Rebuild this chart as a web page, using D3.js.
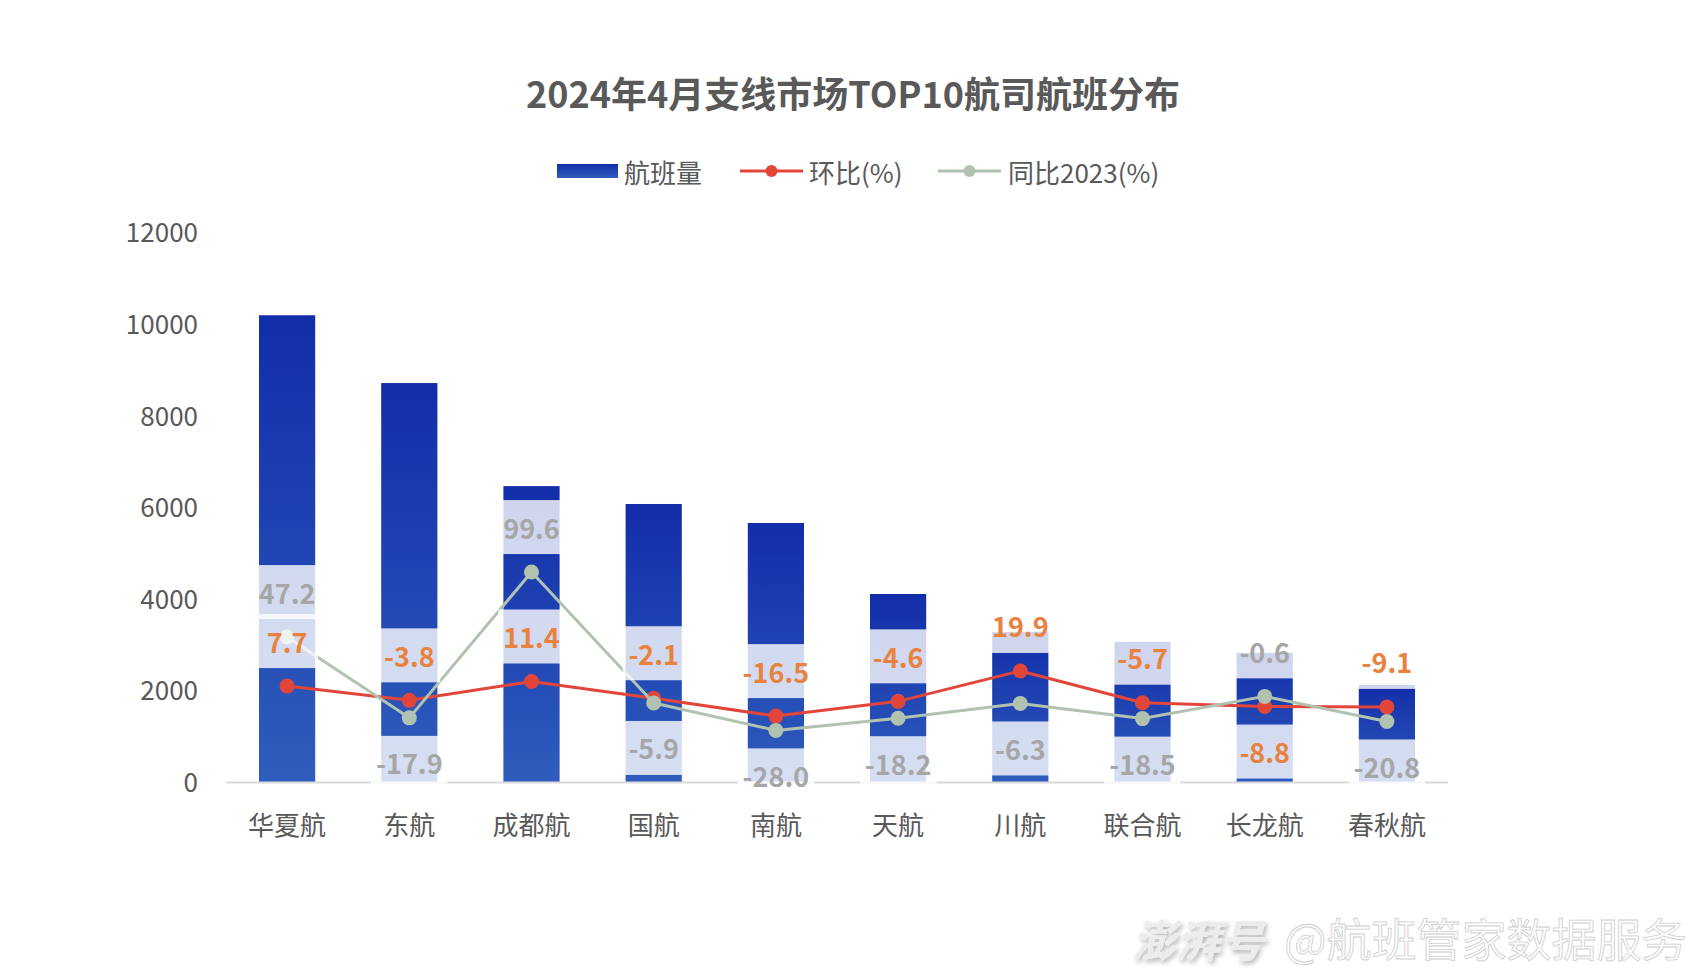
<!DOCTYPE html>
<html>
<head>
<meta charset="utf-8">
<script src="https://cdn.jsdelivr.net/npm/d3@7"></script>
<style>
  html,body{margin:0;padding:0;background:#fff;}
  svg{display:block;font-family:"Noto Sans CJK SC","Noto Sans",sans-serif;}
</style>
</head>
<body>
<svg id="chart" width="1706" height="974"></svg>
<script>
// ---- data ----
const categories = ["华夏航","东航","成都航","国航","南航","天航","川航","联合航","长龙航","春秋航"];
const flights = [10200, 8720, 6470, 6080, 5665, 4115, 3290, 3070, 2830, 2130];
const mom = [7.7, -3.8, 11.4, -2.1, -16.5, -4.6, 19.9, -5.7, -8.8, -9.1];      // 环比(%)
const yoy = [47.2, -17.9, 99.6, -5.9, -28.0, -18.2, -6.3, -18.5, -0.6, -20.8]; // 同比2023(%)
const yTicks = [0, 2000, 4000, 6000, 8000, 10000, 12000];
const seriesNames = ["航班量", "环比(%)", "同比2023(%)"];
const titleText = "2024年4月支线市场TOP10航司航班分布";
// label placement (1 = above point, -1 = below point)
const momSide = [1, 1, 1, 1, 1, 1, 1, 1, -1, 1];
const yoySide = [1, -1, 1, -1, -1, -1, -1, -1, 1, -1];

// ---- setup ----
const svg = d3.select("#chart");
const textColor = "#595959";
const redColor = "#E2463B";
const greyColor = "#B1C3B0";
const orangeLabel = "#E8823E";
const greyLabel = "#A6A6A6";

const plotTop = 232.8, plotBottom = 782.5, plotLeft = 226, plotRight = 1448;

const x = d3.scaleBand().domain(categories).range([plotLeft, plotRight])
  .paddingInner(0.54).paddingOuter(0.27);
const y = d3.scaleLinear().domain([0, 12000]).range([plotBottom, plotTop]);
const y2 = d3.scaleLinear().domain([-70, 373]).range([plotBottom, plotTop]);

const defs = svg.append("defs");
const grad = defs.append("linearGradient").attr("id", "barGrad")
  .attr("x1", 0).attr("y1", 0).attr("x2", 0).attr("y2", 1);
grad.append("stop").attr("offset", "0%").attr("stop-color", "#122DA9");
grad.append("stop").attr("offset", "100%").attr("stop-color", "#2F5DBD");

const blur = defs.append("filter").attr("id", "wmShadow").attr("x", "-10%").attr("y", "-30%").attr("width", "130%").attr("height", "160%");
blur.append("feGaussianBlur").attr("in", "SourceAlpha").attr("stdDeviation", 2.5).attr("result", "b");
blur.append("feOffset").attr("in", "b").attr("dx", 2).attr("dy", 3).attr("result", "o");
blur.append("feComponentTransfer").attr("in", "o").attr("result", "s")
  .append("feFuncA").attr("type", "linear").attr("slope", 0.3);
const mrg = blur.append("feMerge");
mrg.append("feMergeNode").attr("in", "s");
mrg.append("feMergeNode").attr("in", "SourceGraphic");

// ---- title ----
svg.append("text").attr("x", 853).attr("y", 92)
  .attr("text-anchor", "middle").attr("dominant-baseline", "central")
  .attr("font-size", 36).attr("font-weight", "bold").attr("fill", textColor)
  .text(titleText);

// ---- legend ----
const lg = svg.append("g").attr("font-size", 26).attr("fill", textColor);
const legY = 171;
lg.append("rect").attr("x", 557).attr("y", legY - 7).attr("width", 61).attr("height", 14).attr("fill", "url(#barGrad)");
lg.append("text").attr("x", 624).attr("y", legY).attr("dominant-baseline", "central").text(seriesNames[0]);
lg.append("line").attr("x1", 740).attr("x2", 803).attr("y1", legY).attr("y2", legY).attr("stroke", redColor).attr("stroke-width", 3);
lg.append("circle").attr("cx", 771.5).attr("cy", legY).attr("r", 6).attr("fill", redColor);
lg.append("text").attr("x", 809).attr("y", legY).attr("dominant-baseline", "central").text(seriesNames[1]);
lg.append("line").attr("x1", 938).attr("x2", 1001).attr("y1", legY).attr("y2", legY).attr("stroke", greyColor).attr("stroke-width", 3);
lg.append("circle").attr("cx", 969.5).attr("cy", legY).attr("r", 6).attr("fill", greyColor);
lg.append("text").attr("x", 1008).attr("y", legY).attr("dominant-baseline", "central").text(seriesNames[2]);

// ---- y axis (labels only) ----
const yAxis = d3.axisLeft(y).tickValues(yTicks).tickSize(0).tickPadding(0).tickFormat(d3.format("d"));
const yg = svg.append("g").attr("transform", "translate(198,0)").call(yAxis);
yg.select(".domain").remove();
yg.selectAll("text").attr("font-size", 26).attr("fill", textColor)
  .attr("font-family", '"Noto Sans CJK SC","Noto Sans",sans-serif').attr("dy", "0.35em");

// ---- bars ----
svg.append("g").selectAll("rect").data(flights).join("rect")
  .attr("x", (d, i) => x(categories[i]))
  .attr("y", d => y(d))
  .attr("width", x.bandwidth())
  .attr("height", d => y(0) - y(d))
  .attr("fill", "url(#barGrad)");

// ---- x axis ----
const xAxis = d3.axisBottom(x).tickSize(0).tickPadding(0);
const xg = svg.append("g").attr("transform", `translate(0,${plotBottom})`).call(xAxis);
xg.select(".domain").attr("stroke", "#D9D9D9").attr("stroke-width", 2)
  .attr("d", `M${plotLeft},0H${plotRight}`);
xg.selectAll("text").attr("font-size", 26).attr("fill", textColor)
  .attr("font-family", '"Noto Sans CJK SC","Noto Sans",sans-serif')
  .attr("y", 43).attr("dy", "0.35em");

// ---- lines ----
const cx = i => x(categories[i]) + x.bandwidth() / 2;
function drawLine(vals, color) {
  const line = d3.line().x((d, i) => cx(i)).y(d => y2(d));
  const g = svg.append("g");
  g.append("path").datum(vals).attr("d", line).attr("fill", "none")
    .attr("stroke", color).attr("stroke-width", 3).attr("stroke-linejoin", "round");
  g.selectAll("circle").data(vals).join("circle")
    .attr("cx", (d, i) => cx(i)).attr("cy", d => y2(d)).attr("r", 7.5).attr("fill", color);
}
drawLine(mom, redColor);
drawLine(yoy, greyColor);

// ---- data labels with translucent white boxes ----
const fmt = v => d3.format(".1f")(v).replace("\u2212", "-");
const labels = [];
mom.forEach((v, i) => labels.push({v, i, side: momSide[i], color: orangeLabel}));
yoy.forEach((v, i) => labels.push({v, i, side: yoySide[i], color: greyLabel}));
const offset = 45, boxH = 54;
const boxG = svg.append("g");
const txtG = svg.append("g");
labels.forEach(l => {
  const ly = y2(l.v) - l.side * offset;
  const t = txtG.append("text").attr("x", cx(l.i)).attr("y", ly)
    .attr("text-anchor", "middle").attr("dominant-baseline", "central")
    .attr("font-size", 27).attr("font-weight", "bold").attr("fill", l.color)
    .text(fmt(l.v));
  const w = Math.max(t.node().getComputedTextLength() + 10, 62);
  boxG.append("rect").attr("x", cx(l.i) - w / 2).attr("y", ly - boxH / 2)
    .attr("width", w).attr("height", boxH).attr("fill", "#fff").attr("fill-opacity", 0.8);
});

// ---- watermark ----
const wm = svg.append("g");
wm.append("text").attr("x", 1132).attr("y", 957).attr("font-size", 44)
  .attr("font-weight", "bold").attr("font-style", "italic").attr("fill", "#ececec")
  .attr("filter", "url(#wmShadow)").text("澎湃号");
wm.append("text").attr("x", 1284).attr("y", 957).attr("font-size", 45)
  .attr("fill", "#fcfcfc").attr("stroke", "#cfcfcf").attr("stroke-width", 0.8)
  .text("@航班管家数据服务");
</script>
</body>
</html>
